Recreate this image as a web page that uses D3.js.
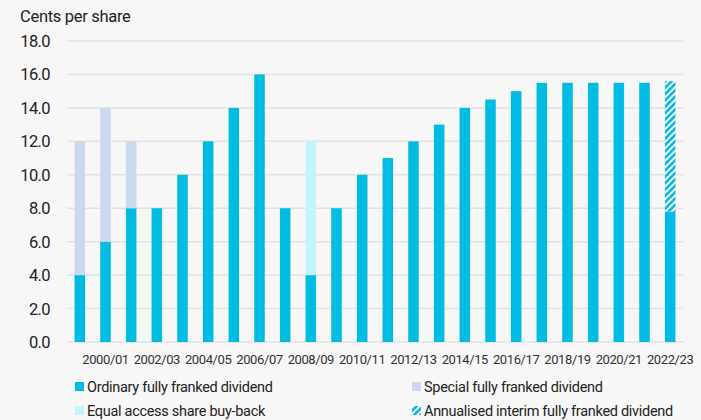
<!DOCTYPE html>
<html>
<head>
<meta charset="utf-8">
<script src="https://cdn.jsdelivr.net/npm/d3@7"></script>
<style>
  body { margin: 0; background: #f7f7f7; }
  svg { display: block; font-family: Roboto, "Noto Sans", sans-serif; }
</style>
</head>
<body>
<div id="chart"></div>
<script>
// Data
const years = ["1999/00", "2000/01", "2001/02", "2002/03", "2003/04", "2004/05", "2005/06", "2006/07",
  "2007/08", "2008/09", "2009/10", "2010/11", "2011/12", "2012/13", "2013/14", "2014/15",
  "2015/16", "2016/17", "2017/18", "2018/19", "2019/20", "2020/21", "2021/22", "2022/23"];
const ordinary = [4, 6, 8, 8, 10, 12, 14, 16, 8, 4, 8, 10, 11, 12, 13, 14, 14.5, 15, 15.5, 15.5, 15.5, 15.5, 15.5, 7.8];
const special = [8, 8, 4, 0, 0, 0, 0, 0, 0, 0, 0, 0, 0, 0, 0, 0, 0, 0, 0, 0, 0, 0, 0, 0];
const buyback = [0, 0, 0, 0, 0, 0, 0, 0, 0, 8, 0, 0, 0, 0, 0, 0, 0, 0, 0, 0, 0, 0, 0, 0];
const interim = [0, 0, 0, 0, 0, 0, 0, 0, 0, 0, 0, 0, 0, 0, 0, 0, 0, 0, 0, 0, 0, 0, 0, 7.8];
const yTicks = [0, 2, 4, 6, 8, 10, 12, 14, 16, 18];
const keys = ["ordinary", "special", "buyback", "interim"];
const labels = {
  ordinary: "Ordinary fully franked dividend",
  special: "Special fully franked dividend",
  buyback: "Equal access share buy-back",
  interim: "Annualised interim fully franked dividend"
};

const W = 701, H = 420;
const svg = d3.select("#chart").append("svg")
  .attr("width", W).attr("height", H);

svg.append("rect").attr("width", W).attr("height", H).attr("fill", "#f7f7f7");

// stripe pattern for the annualised interim
const defs = svg.append("defs");
const pat = defs.append("pattern")
  .attr("id", "stripes")
  .attr("patternUnits", "userSpaceOnUse")
  .attr("width", 4.5).attr("height", 4.5)
  .attr("patternTransform", "rotate(45)");
pat.append("rect").attr("width", 4.5).attr("height", 4.5).attr("fill", "#ffffff");
pat.append("rect").attr("width", 2.6).attr("height", 4.5).attr("fill", "#00b9e1");

const color = {
  ordinary: "#00bbe2",
  special: "#cbd9ef",
  buyback: "#c2f5fb",
  interim: "url(#stripes)"
};

const x = d3.scaleBand()
  .domain(years)
  .range([67, 683])
  .paddingInner(0.59)
  .paddingOuter(0.295);

const y = d3.scaleLinear()
  .domain([0, 18])
  .range([342, 41]);

// gridlines
svg.append("g")
  .selectAll("line")
  .data(yTicks)
  .enter().append("line")
  .attr("x1", 67).attr("x2", 683)
  .attr("y1", d => y(d)).attr("y2", d => y(d))
  .attr("stroke", "#e2e2e2")
  .attr("stroke-width", 1.5);

// y tick labels
svg.append("g")
  .selectAll("text")
  .data(yTicks)
  .enter().append("text")
  .attr("x", 50)
  .attr("y", d => y(d) + 6)
  .attr("text-anchor", "end")
  .attr("font-size", 16.5)
  .attr("letter-spacing", -0.6)
  .attr("fill", "#222")
  .text(d => d.toFixed(1));

svg.append("text")
  .attr("x", 20).attr("y", 22)
  .attr("font-size", 16.5)
  .attr("letter-spacing", -0.3)
  .attr("fill", "#222")
  .text("Cents per share");

// stacked bars
const rows = years.map((yr, i) => ({
  year: yr, ordinary: ordinary[i], special: special[i], buyback: buyback[i], interim: interim[i]
}));
const stacked = d3.stack().keys(keys)(rows);

svg.append("g")
  .selectAll("g")
  .data(stacked)
  .enter().append("g")
  .attr("fill", d => color[d.key])
  .selectAll("rect")
  .data(d => d.filter(s => s[1] > s[0]))
  .enter().append("rect")
  .attr("x", d => x(d.data.year))
  .attr("width", x.bandwidth())
  .attr("y", d => y(d[1]))
  .attr("height", d => y(d[0]) - y(d[1]));

// x labels every second year
svg.append("g")
  .selectAll("text")
  .data(years.filter((d, i) => i % 2 === 1))
  .enter().append("text")
  .attr("x", d => x(d) + x.bandwidth() / 2)
  .attr("y", 364)
  .attr("text-anchor", "middle")
  .attr("font-size", 13)
  .attr("letter-spacing", -0.4)
  .attr("fill", "#333")
  .text(d => d);

// legend
const legendPos = [
  { key: "ordinary", x: 75, y: 382 },
  { key: "special", x: 412, y: 382 },
  { key: "buyback", x: 75, y: 406 },
  { key: "interim", x: 412, y: 406 }
];
const legend = svg.append("g");
legendPos.forEach(p => {
  legend.append("rect")
    .attr("x", p.x).attr("y", p.y)
    .attr("width", 9).attr("height", 9)
    .attr("fill", color[p.key]);
  legend.append("text")
    .attr("x", p.x + 12).attr("y", p.y + 10)
    .attr("font-size", 14.5)
    .attr("letter-spacing", -0.3)
    .attr("fill", "#222")
    .text(labels[p.key]);
});
</script>
</body>
</html>
